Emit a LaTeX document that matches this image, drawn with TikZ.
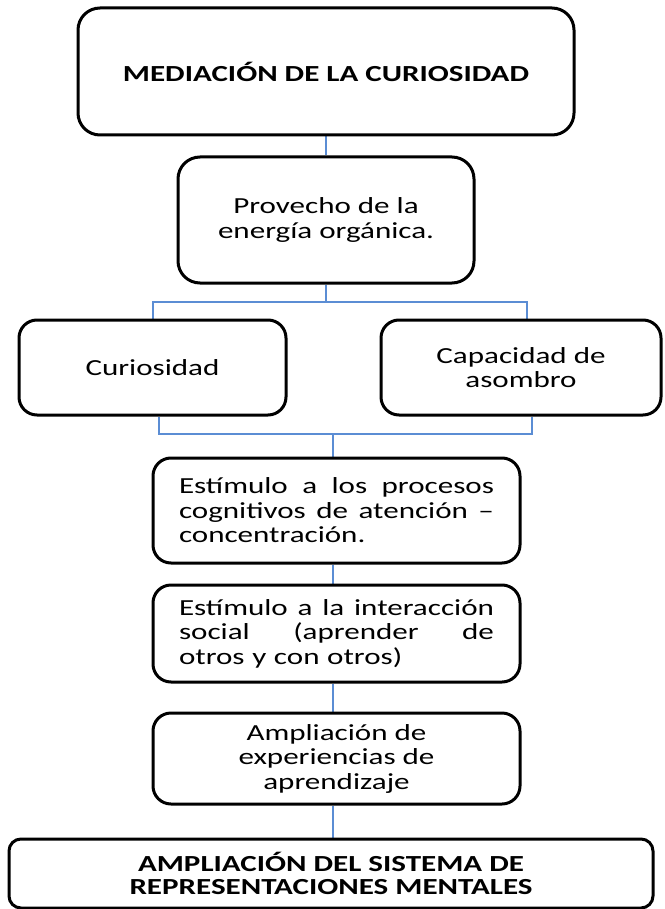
\documentclass[tikz,border=0pt]{standalone}
\usepackage{fontspec}
\setmainfont{Carlito}[FakeStretch=1.35]
\usetikzlibrary{calc,backgrounds}
\definecolor{conn}{HTML}{5B8DD4}
\tikzset{
  box/.style={draw=black, line width=3pt, rounded corners=18pt, inner sep=0pt,
    align=center, font=\fontsize{23}{24.5}\selectfont},
  boldbox/.style={box, font=\fontsize{23}{23}\selectfont\bfseries},
  link/.style={draw=conn, line width=2pt},
}
\newcommand{\jline}[1]{\leavevmode\hbox to 315pt{#1}}
\begin{document}
\begin{tikzpicture}[x=1pt,y=-1pt]
\useasboundingbox (0,0) rectangle (664,909);
\node[boldbox, minimum width=496pt, minimum height=127pt, rounded corners=22pt] (b1) at (326,71.5) {MEDIACIÓN DE LA CURIOSIDAD};
\node[box, minimum width=296pt, minimum height=126pt, rounded corners=22pt] (b2) at (326,220) {Provecho de la\\energía orgánica.};
\node[box, minimum width=267pt, minimum height=95pt] (b3) at (152.5,367.5) {Curiosidad};
\node[box, minimum width=280pt, minimum height=95pt] (b4) at (521,367.5) {Capacidad de\\asombro};
\node[box, minimum width=367pt, minimum height=105pt, align=left, text width=315pt] (b5) at (336.5,510.5)
  {\jline{Estímulo\hfill a\hfill los\hfill procesos}\\\jline{cognitivos\hfill de\hfill atención\hfill –}\\concentración.};
\node[box, minimum width=367pt, minimum height=97pt, align=left, text width=315pt] (b6) at (336.5,633.5)
  {\jline{Estímulo\hfill a\hfill la\hfill interacción}\\\jline{social\hfill (aprender\hfill de}\\otros y con otros)};
\node[box, minimum width=367pt, minimum height=91pt] (b7) at (336.5,758.5) {Ampliación de\\experiencias de\\aprendizaje};
\node[boldbox, minimum width=644pt, minimum height=69pt, rounded corners=12pt] (b8) at (331,873.5) {AMPLIACIÓN DEL SISTEMA DE\\REPRESENTACIONES MENTALES};
\begin{scope}[on background layer]
\draw[link] (b1.south) -- (b2.north);
\coordinate (t) at ($(b2.south)+(0,17)$);
\draw[link] (b2.south) -- (t);
\draw[link] (b3.north) |- (t) -| ([xshift=6pt]b4.north);
\coordinate (j) at (333,434);
\draw[link] ([xshift=6.5pt]b3.south) |- (j) -| ([xshift=11pt]b4.south);
\draw[link] (j) -- (j |- b5.north);
\draw[link] (b5.south -| j) -- (b6.north -| j);
\draw[link] (b6.south -| j) -- (b7.north -| j);
\draw[link] (b7.south -| j) -- (b8.north -| j);
\end{scope}
\end{tikzpicture}
\end{document}
